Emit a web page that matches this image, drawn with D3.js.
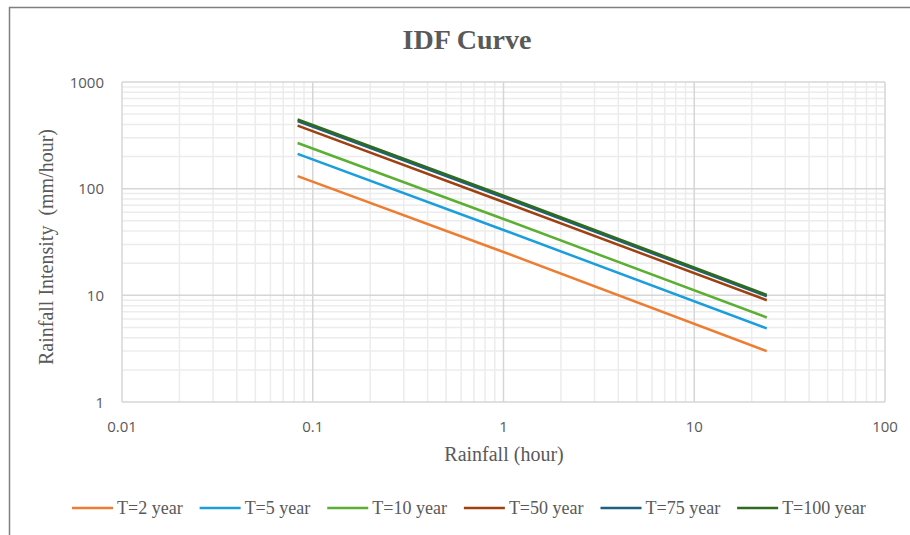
<!DOCTYPE html>
<html>
<head>
<meta charset="utf-8">
<script src="https://cdn.jsdelivr.net/npm/d3@7"></script>
<style>
  body { margin: 0; background: #fff; }
  svg { display: block; }
</style>
</head>
<body>
<svg width="910" height="535"></svg>
<script>
// durations in hours (5 min, 1 h, 24 h)
const durations = [0.0833, 1, 24];
const seriesNames = ["T=2 year", "T=5 year", "T=10 year", "T=50 year", "T=75 year", "T=100 year"];
const seriesColors = ["#ED7D31", "#1A9FDC", "#5BAF32", "#9E400F", "#1F5F82", "#2E6B1F"];
// intensity in mm/hour
const t2 = [131, 25.5, 3.0];
const t5 = [212, 41, 4.9];
const t10 = [268, 52, 6.2];
const t50 = [390, 75, 9.0];
const t75 = [430, 83, 9.8];
const t100 = [445, 86, 10.1];
const allValues = [t2, t5, t10, t50, t75, t100];

const xTicks = [0.01, 0.1, 1, 10, 100];
const yTicks = [1, 10, 100, 1000];

const svg = d3.select('svg');
const textColor = '#595959';

// chart border
svg.append('rect')
  .attr('x', 9.5).attr('y', 7.5)
  .attr('width', 920).attr('height', 540)
  .attr('fill', 'none').attr('stroke', '#7f7f7f').attr('stroke-width', 1.5);

const plot = { left: 122, right: 885, top: 82, bottom: 402 };

const x = d3.scaleLog().domain([0.01, 100]).range([plot.left, plot.right]);
const y = d3.scaleLog().domain([1, 1000]).range([plot.bottom, plot.top]);

// minor gridlines (2..9 in each decade)
const minorX = [], minorY = [];
for (let d = 0.01; d < 100; d *= 10) for (let k = 2; k < 10; k++) minorX.push(d * k);
for (let d = 1; d < 1000; d *= 10) for (let k = 2; k < 10; k++) minorY.push(d * k);

const grid = svg.append('g');
grid.selectAll('.mx').data(minorX).enter().append('line')
  .attr('x1', d => x(d)).attr('x2', d => x(d))
  .attr('y1', plot.top).attr('y2', plot.bottom)
  .attr('stroke', '#ececec').attr('stroke-width', 1.5);
grid.selectAll('.my').data(minorY).enter().append('line')
  .attr('y1', d => y(d)).attr('y2', d => y(d))
  .attr('x1', plot.left).attr('x2', plot.right)
  .attr('stroke', '#ececec').attr('stroke-width', 1.5);
grid.selectAll('.MX').data(xTicks).enter().append('line')
  .attr('x1', d => x(d)).attr('x2', d => x(d))
  .attr('y1', plot.top).attr('y2', plot.bottom)
  .attr('stroke', '#d6d6d6').attr('stroke-width', 1.5);
grid.selectAll('.MY').data(yTicks).enter().append('line')
  .attr('y1', d => y(d)).attr('y2', d => y(d))
  .attr('x1', plot.left).attr('x2', plot.right)
  .attr('stroke', '#d6d6d6').attr('stroke-width', 1.5);

// tick labels
svg.selectAll('.xl').data(xTicks).enter().append('text')
  .attr('x', d => x(d)).attr('y', 432)
  .attr('text-anchor', 'middle')
  .style('font-family', 'Open Sans, Liberation Sans, sans-serif')
  .style('font-size', '15px').attr('fill', textColor)
  .text(d => d);
svg.selectAll('.yl').data(yTicks).enter().append('text')
  .attr('x', 104).attr('y', d => y(d) + 5.5)
  .attr('text-anchor', 'end')
  .style('font-family', 'Open Sans, Liberation Sans, sans-serif')
  .style('font-size', '15px').attr('fill', textColor)
  .text(d => d);

// series lines
const line = d3.line()
  .x((d, i) => x(durations[i]))
  .y(d => y(d));

svg.append('g').selectAll('path')
  .data(allValues).enter().append('path')
  .attr('d', d => line(d))
  .attr('fill', 'none')
  .attr('stroke', (d, i) => seriesColors[i])
  .attr('stroke-width', 2.5);

// titles
svg.append('text')
  .attr('x', 467).attr('y', 49)
  .attr('text-anchor', 'middle')
  .style('font-family', 'Liberation Serif, serif')
  .style('font-size', '28px').style('font-weight', 'bold')
  .attr('fill', textColor)
  .text('IDF Curve');

svg.append('text')
  .attr('x', 504).attr('y', 461)
  .attr('text-anchor', 'middle')
  .style('font-family', 'Liberation Serif, serif')
  .style('font-size', '20px').attr('fill', textColor)
  .text('Rainfall (hour)');

svg.append('text')
  .attr('transform', 'translate(53,247) rotate(-90)')
  .attr('text-anchor', 'middle')
  .style('font-family', 'Liberation Serif, serif')
  .style('font-size', '20px').attr('fill', textColor)
  .style('white-space', 'pre')
  .text('Rainfall Intensity  (mm/hour)');

// legend, laid out left to right from the text widths
const legend = svg.append('g').attr('transform', 'translate(0,508)');
let lx = 72;
seriesNames.forEach((name, i) => {
  legend.append('line')
    .attr('x1', lx).attr('x2', lx + 41)
    .attr('stroke', seriesColors[i]).attr('stroke-width', 2.5);
  const t = legend.append('text')
    .attr('x', lx + 45).attr('y', 6)
    .style('font-family', 'Liberation Serif, serif')
    .style('font-size', '18px').attr('fill', textColor)
    .text(name);
  lx += 45 + t.node().getComputedTextLength() + 17;
});
</script>
</body>
</html>
